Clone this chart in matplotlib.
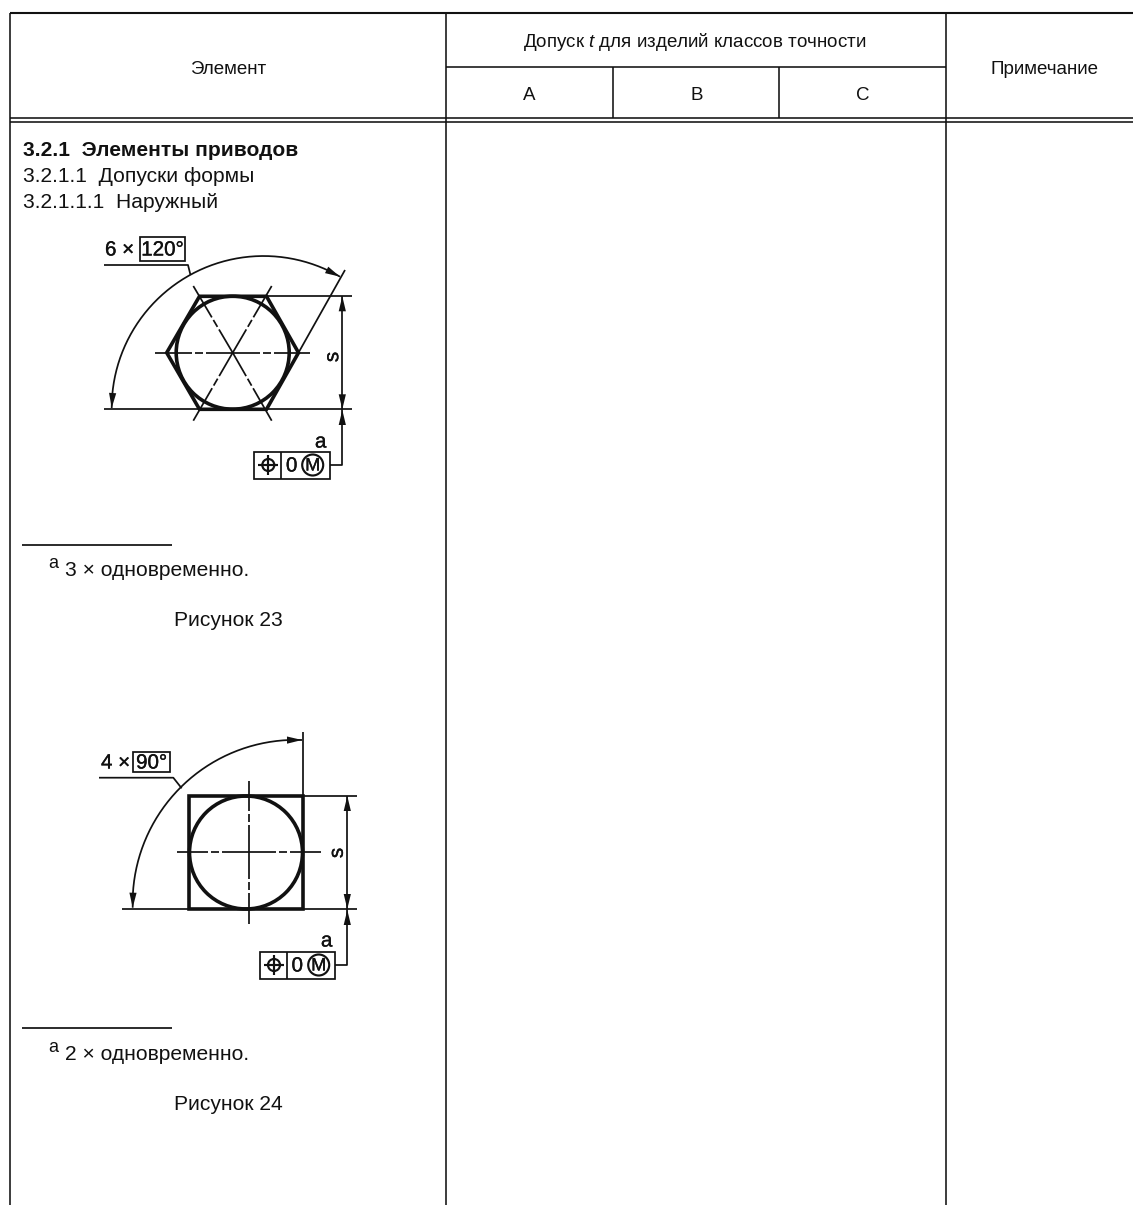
#таблица допусков с двумя чертежами, все координаты в пикселях исходной картинки
import matplotlib
matplotlib.use('Agg')
import matplotlib.pyplot as plt
import matplotlib.patheffects as pe
import numpy as np
from matplotlib.patches import Circle, Rectangle

plt.rcParams['font.family'] = ['Liberation Sans', 'DejaVu Sans']
plt.rcParams['mathtext.fontset'] = 'custom'
plt.rcParams['mathtext.rm'] = 'Liberation Sans'
plt.rcParams['mathtext.it'] = 'Liberation Sans:italic'
plt.rcParams['lines.scale_dashes'] = False
plt.rcParams['lines.solid_capstyle'] = 'butt'

# тексты шапки
head_element = 'Элемент'
head_tol = 'Допуск $\\mathit{t}$ для изделий классов точности'
head_note = 'Примечание'
classes = ['A', 'B', 'C']
class_x = [529, 697, 863]
# текст раздела
section_lines = ['3.2.1  Элементы приводов', '3.2.1.1  Допуски формы', '3.2.1.1.1  Наружный']
section_y = [150, 175, 201]
section_bold = [True, False, False]

# сетка таблицы
grid_v = [[10, 13, 1205], [446, 13, 1205], [946, 13, 1205], [613, 67, 118], [779, 67, 118]]
grid_h = [[10, 1133, 13], [446, 946, 67], [10, 1133, 118], [10, 1133, 122]]

# рисунок 23
hex_pts = [[166.7, 352.7], [199.5, 296.3], [266.5, 296.3], [298.5, 352.7], [266.5, 409.3], [199.5, 409.3]]
hex_c = [232.7, 352.7]
hex_thin = [[[199, 296.3], [352, 296.3]], [[104, 409.3], [352, 409.3]],
            [[298.5, 352.7], [345, 270]], [[104, 265], [188, 265], [190.5, 275]]]
hex_axes = [[[232.7, 352.7], [155, 352.7]], [[232.7, 352.7], [310, 352.7]],
            [[232.7, 352.7], [193.3, 286]], [[232.7, 352.7], [271.7, 286]],
            [[232.7, 352.7], [193.3, 420.7]], [[232.7, 352.7], [271.7, 420.7]]]
hex_arc = [[111.7, 408], [190, 275], [340, 276.7]]

# рисунок 24
sq_box = [189, 796, 113.7, 113]
sq_c = [246, 852.5]
sq_thin = [[[302.7, 796], [356.7, 796]], [[122.3, 909], [356.7, 909]],
           [[302.7, 796], [302.7, 732.3]], [[99, 777.7], [173.3, 777.7], [181.7, 788.3]]]
sq_axes = [[[249.3, 852.3], [176.7, 852.3]], [[249.3, 852.3], [320.7, 852.3]],
           [[249.3, 852.3], [249.3, 781]], [[249.3, 852.3], [249.3, 924.3]]]
sq_arc = [[132.7, 907.7], [180, 788], [302, 740]]

circle_r = 56.5
thin = 1.25
thick = 2.6
ink = '#111111'
fs_head = 13.5
fs_body = 15.1
fs_draw = 14.8
heavy = [pe.withStroke(linewidth=0.25, foreground=ink)]

fig = plt.figure(figsize=(11.33, 12.05), dpi=100)
ax = fig.add_axes([0, 0, 1, 1])
ax.set_xlim(0, 1133)
ax.set_ylim(1205, 0)
ax.axis('off')


def line(pts, lw=thin, **kw):
    pts = np.array(pts)
    ax.plot(pts[:, 0], pts[:, 1], color=ink, lw=lw, **kw)


def arrow(x0, y0, x1, y1):
    # наконечник стрелки в точке x1,y1
    d = np.array([x1 - x0, y1 - y0], dtype=float)
    d = d / np.hypot(*d)
    n = np.array([-d[1], d[0]])
    tip = np.array([x1, y1])
    ax.fill(*zip(tip, tip - 15 * d + 3.6 * n, tip - 15 * d - 3.6 * n), color=ink, lw=0)


def arc3(a, b, c):
    # дуга окружности через три точки
    a, b, c = [np.array(p, dtype=float) for p in (a, b, c)]
    A = 2 * np.array([b - a, c - a])
    rhs = np.array([b @ b - a @ a, c @ c - a @ a])
    o = np.linalg.solve(A, rhs)
    r = np.hypot(*(a - o))
    t0 = np.arctan2(a[1] - o[1], a[0] - o[0])
    t1 = np.arctan2(c[1] - o[1], c[0] - o[0])
    if t1 < t0:
        t1 += 2 * np.pi
    t = np.linspace(t0, t1, 200)
    x = o[0] + r * np.cos(t)
    y = o[1] + r * np.sin(t)
    ax.plot(x, y, color=ink, lw=thin)
    arrow(x[12], y[12], x[0], y[0])
    arrow(x[-12], y[-12], x[-1], y[-1])


def chain(pts):
    # штрихпунктир от центра наружу
    px = 0.72
    line(pts, lw=thin, linestyle=(0, (27 * px, 3 * px, 8 * px, 3 * px, 80 * px, 0.01)))


def label(x, y, txt, fs=fs_draw, **kw):
    ax.text(x, y, txt, fontsize=fs, ha=kw.pop('ha', 'center'), va='center', color=ink,
            path_effects=heavy, **kw)


def frame(x0, x1, xd, yc, sym_x, zero_x, m_x):
    ax.add_patch(Rectangle((x0, yc - 13.5), x1 - x0, 27, fc='white', ec=ink, lw=thin))
    line([[xd, yc - 13.5], [xd, yc + 13.5]])
    ax.add_patch(Circle((sym_x, yc), 6, fc='none', ec=ink, lw=thin + 0.3))
    line([[sym_x - 10, yc], [sym_x + 10, yc]], lw=thin + 0.3)
    line([[sym_x, yc - 10], [sym_x, yc + 10]], lw=thin + 0.3)
    label(zero_x, yc + 1, '0')
    ax.add_patch(Circle((m_x, yc), 10.5, fc='none', ec=ink, lw=thin + 0.3))
    label(m_x, yc + 1, 'M', fs=13)


# таблица
for x, y0, y1 in grid_v:
    line([[x, y0], [x, y1]], lw=1.15)
for x0, x1, y in grid_h:
    line([[x0, y], [x1, y]], lw=1.15)
line([[10, 13], [1133, 13]], lw=1.5)

ax.text(228, 69, head_element, fontsize=fs_head, ha='center', va='center', color=ink)
ax.text(695, 42, head_tol, fontsize=fs_head, ha='center', va='center', color=ink)
ax.text(1044, 69.5, head_note, fontsize=fs_head, ha='center', va='center', color=ink)
for name, x in zip(classes, class_x):
    ax.text(x, 95, name, fontsize=fs_head, ha='center', va='center', color=ink)
for txt, y, b in zip(section_lines, section_y, section_bold):
    ax.text(23, y + 1, txt, fontsize=fs_body, ha='left', va='center', color=ink,
            fontweight='bold' if b else 'normal')

# рисунок 23
ax.add_patch(plt.Polygon(hex_pts, closed=True, fc='none', ec=ink, lw=thick))
ax.add_patch(Circle(hex_c, circle_r, fc='none', ec=ink, lw=thick))
for seg in hex_thin:
    line(seg)
for seg in hex_axes:
    chain(seg)
arc3(*hex_arc)
line([[342.3, 296.3], [342.3, 409.3]])
arrow(342.3, 330, 342.3, 296.3)
arrow(342.3, 380, 342.3, 409.3)
line([[330, 465], [342.3, 465], [342.3, 409.3]])
arrow(342.3, 440, 342.3, 410)
ax.add_patch(Rectangle((140, 236.7), 45, 24, fc='white', ec=ink, lw=thin))
label(162.5, 250, '120°')
label(105, 250, '6 ×', ha='left')
label(332.7, 357, 's', rotation=90)
label(320.7, 442, 'a')
frame(254, 330, 280.7, 465, 268.3, 291.7, 312.7)

line([[22, 545], [172, 545]])
ax.text(48, 563, 'а', fontsize=13, ha='left', va='center', color=ink)
ax.text(65, 570, '3 × одновременно.', fontsize=fs_body, ha='left', va='center', color=ink)
ax.text(228, 620, 'Рисунок 23', fontsize=fs_body, ha='center', va='center', color=ink)

# рисунок 24
ax.add_patch(Rectangle(sq_box[:2], sq_box[2], sq_box[3], fc='none', ec=ink, lw=thick))
ax.add_patch(Circle(sq_c, circle_r, fc='none', ec=ink, lw=thick))
for seg in sq_thin:
    line(seg)
for seg in sq_axes:
    chain(seg)
arc3(*sq_arc)
line([[347.3, 796], [347.3, 909]])
arrow(347.3, 830, 347.3, 796)
arrow(347.3, 880, 347.3, 909)
line([[335, 965], [347.3, 965], [347.3, 909]])
arrow(347.3, 940, 347.3, 910)
ax.add_patch(Rectangle((133.3, 752.3), 36.7, 20, fc='white', ec=ink, lw=thin))
label(151.7, 763, '90°')
label(101, 763, '4 ×', ha='left')
label(337.3, 853, 's', rotation=90)
label(326.7, 941, 'a')
frame(260, 335, 287.3, 965, 274, 297.3, 318.7)

line([[22, 1028], [172, 1028]])
ax.text(48, 1047, 'а', fontsize=13, ha='left', va='center', color=ink)
ax.text(65, 1054, '2 × одновременно.', fontsize=fs_body, ha='left', va='center', color=ink)
ax.text(228, 1104, 'Рисунок 24', fontsize=fs_body, ha='center', va='center', color=ink)

plt.savefig('out.png', dpi=100)
